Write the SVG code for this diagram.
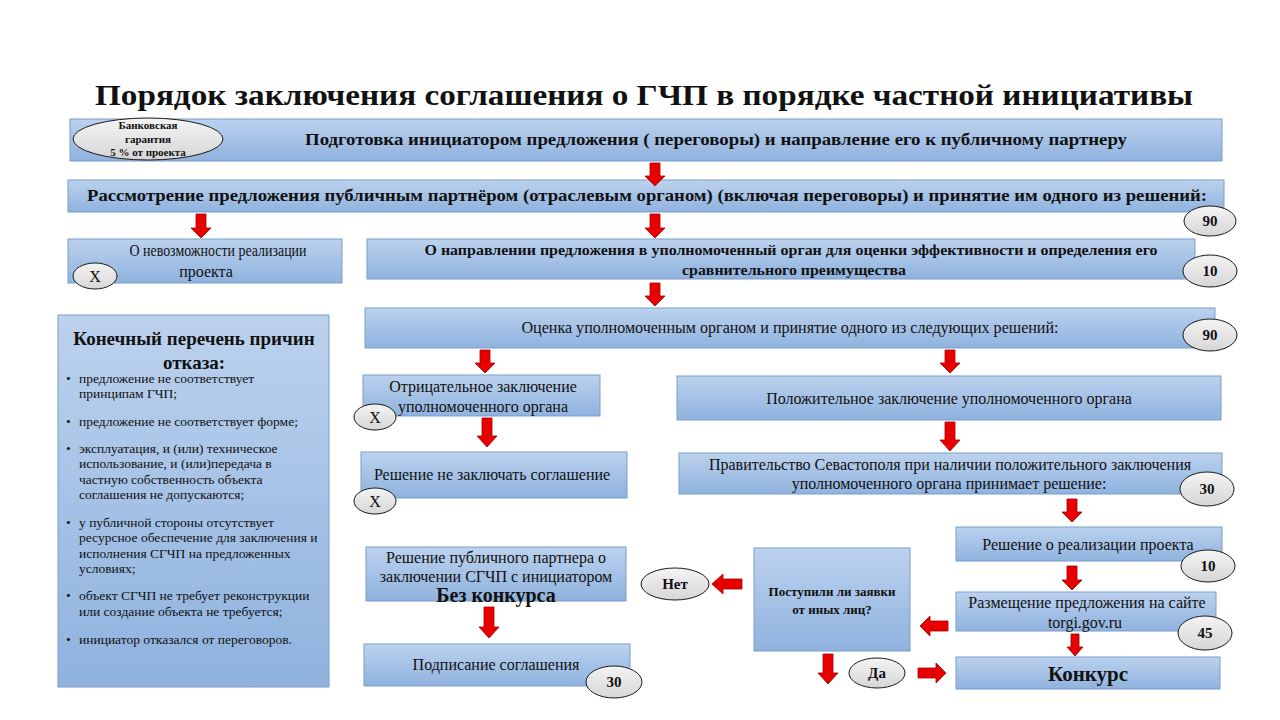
<svg xmlns="http://www.w3.org/2000/svg" width="1280" height="720" viewBox="0 0 1280 720" font-family="'Liberation Serif', 'DejaVu Serif', serif">
<defs>
<linearGradient id="bg" x1="0" y1="0" x2="0" y2="1">
<stop offset="0" stop-color="#bcd2ee"/>
<stop offset="1" stop-color="#8fb2de"/>
</linearGradient>
<linearGradient id="eg" x1="0" y1="0" x2="0" y2="1">
<stop offset="0" stop-color="#f4f4f4"/>
<stop offset="1" stop-color="#d6d6d6"/>
</linearGradient>
<style>
.box{fill:url(#bg);stroke:#7b9dcb;stroke-width:1}
.ell{fill:url(#eg);stroke:#1a1a1a;stroke-width:1}
.arr{fill:#e80000;stroke:#a50000;stroke-width:0.8}
text{fill:#111}
.c{text-anchor:middle}
.b{font-weight:bold}
.t16{font-size:16px}
.li{font-size:13.5px}
.num{font-size:15px;font-weight:bold;text-anchor:middle}
</style>
</defs>
<rect width="1280" height="720" fill="#ffffff"/>
<text x="644" y="105" class="c b" font-size="30" fill="#2b2b2b" textLength="1098" lengthAdjust="spacingAndGlyphs">Порядок заключения соглашения о ГЧП в порядке частной инициативы</text>

<g id="n1">
<rect class="box" x="70" y="119" width="1152" height="42"/>
<text x="716" y="145" class="c b" font-size="16" textLength="822" lengthAdjust="spacingAndGlyphs">Подготовка инициатором предложения ( переговоры) и направление его  к публичному партнеру</text>
</g>
<g id="bank">
<ellipse class="ell" cx="148" cy="139" rx="75" ry="21"/>
<text x="148" y="129" class="c b" font-size="11">Банковская</text>
<text x="148" y="143" class="c b" font-size="11">гарантия</text>
<text x="148" y="156" class="c b" font-size="11">5 % от проекта</text>
</g>

<g id="n2">
<rect class="box" x="68" y="180" width="1156" height="32"/>
<text x="647" y="201" class="c b" font-size="17" textLength="1120" lengthAdjust="spacingAndGlyphs">Рассмотрение предложения публичным партнёром (отраслевым органом) (включая переговоры) и принятие им одного из решений:</text>
</g>
<g id="e90a"><ellipse class="ell" cx="1210" cy="221" rx="26" ry="15"/><text x="1210" y="226" class="num">90</text></g>

<g id="n3">
<rect class="box" x="68" y="239" width="274" height="44"/>
<text x="218" y="256" class="c t16" textLength="177" lengthAdjust="spacingAndGlyphs">О невозможности реализации</text>
<text x="206" y="277" class="c t16">проекта</text>
</g>
<g id="x1"><ellipse class="ell" cx="95" cy="276" rx="22" ry="13"/><text x="95" y="282" class="c t16">Х</text></g>

<g id="n4">
<rect class="box" x="367" y="239" width="828" height="40"/>
<text x="791" y="255" class="c b" font-size="14" textLength="733" lengthAdjust="spacingAndGlyphs">О направлении  предложения в уполномоченный орган для оценки эффективности и определения его</text>
<text x="794" y="275" class="c b" font-size="14" textLength="224" lengthAdjust="spacingAndGlyphs">сравнительного  преимущества</text>
</g>
<g id="e10a"><ellipse class="ell" cx="1210" cy="271" rx="27" ry="16"/><text x="1210" y="276" class="num">10</text></g>

<g id="n5">
<rect class="box" x="365" y="308" width="850" height="40"/>
<text x="790" y="333" class="c t16" textLength="537" lengthAdjust="spacingAndGlyphs">Оценка уполномоченным органом и принятие одного из следующих  решений:</text>
</g>
<g id="e90b"><ellipse class="ell" cx="1210" cy="335" rx="27" ry="16"/><text x="1210" y="340" class="num">90</text></g>

<g id="reasons">
<rect class="box" x="58" y="315" width="271" height="372"/>
<text x="194" y="345" class="c b" font-size="19">Конечный перечень причин</text>
<text x="194" y="369" class="c b" font-size="19">отказа:</text>
<g class="li">
<text x="66" y="383">•</text><text x="79" y="383">предложение  не  соответствует</text>
<text x="79" y="398">принципам ГЧП;</text>
<text x="66" y="426">•</text><text x="79" y="426">предложение  не  соответствует  форме;</text>
<text x="66" y="453">•</text><text x="79" y="453">эксплуатация,  и (или)  техническое</text>
<text x="79" y="468">использование,  и (или)передача  в</text>
<text x="79" y="484">частную собственность объекта</text>
<text x="79" y="499">соглашения  не допускаются;</text>
<text x="66" y="527">•</text><text x="79" y="527">у публичной стороны отсутствует</text>
<text x="79" y="542">ресурсное обеспечение для заключения и</text>
<text x="79" y="558">исполнения  СГЧП на предложенных</text>
<text x="79" y="573">условиях;</text>
<text x="66" y="600">•</text><text x="79" y="600">объект СГЧП  не  требует реконструкции</text>
<text x="79" y="616">или создание  объекта не требуется;</text>
<text x="66" y="644">•</text><text x="79" y="644">инициатор  отказался  от переговоров.</text>
</g>
</g>

<g id="n6">
<rect class="box" x="363" y="375" width="237" height="41"/>
<text x="483" y="392" class="c t16">Отрицательное заключение</text>
<text x="483" y="412" class="c t16">уполномоченного органа</text>
</g>
<g id="x2"><ellipse class="ell" cx="375" cy="417" rx="21" ry="13"/><text x="375" y="423" class="c t16">Х</text></g>

<g id="n7">
<rect class="box" x="361" y="452" width="266" height="46"/>
<text x="492" y="480" class="c t16">Решение не заключать  соглашение</text>
</g>
<g id="x3"><ellipse class="ell" cx="375" cy="501" rx="21" ry="13"/><text x="375" y="507" class="c t16">Х</text></g>

<g id="n8">
<rect class="box" x="677" y="376" width="544" height="44"/>
<text x="949" y="404" class="c t16">Положительное заключение  уполномоченного органа</text>
</g>

<g id="n9">
<rect class="box" x="679" y="453" width="543" height="41"/>
<text x="950" y="470" class="c t16">Правительство Севастополя  при наличии положительного заключения</text>
<text x="949" y="489" class="c t16">уполномоченного органа принимает решение:</text>
</g>
<g id="e30a"><ellipse class="ell" cx="1207" cy="489" rx="27" ry="17"/><text x="1207" y="494" class="num">30</text></g>

<g id="n10">
<rect class="box" x="956" y="527" width="266" height="34"/>
<text x="1088" y="550" class="c t16">Решение о реализации проекта</text>
</g>
<g id="e10b"><ellipse class="ell" cx="1208" cy="566" rx="27" ry="16"/><text x="1208" y="571" class="num">10</text></g>

<g id="n11">
<rect class="box" x="956" y="592" width="260" height="39"/>
<text x="1087" y="608" class="c t16">Размещение предложения на сайте</text>
<text x="1085" y="628" class="c t16">torgi.gov.ru</text>
</g>
<g id="e45"><ellipse class="ell" cx="1205" cy="633" rx="27" ry="17"/><text x="1205" y="638" class="num">45</text></g>

<g id="n12">
<rect class="box" x="956" y="657" width="264" height="32"/>
<text x="1088" y="681" class="c b" font-size="21">Конкурс</text>
</g>

<g id="n13">
<rect class="box" x="754" y="548" width="156" height="103"/>
<text x="832" y="596" class="c b" font-size="13">Поступили  ли заявки</text>
<text x="832" y="614" class="c b" font-size="13">от иных  лиц?</text>
</g>
<g id="net"><ellipse class="ell" cx="675" cy="584" rx="34" ry="16"/><text x="675" y="589" class="num">Нет</text></g>
<g id="da"><ellipse class="ell" cx="877" cy="673" rx="28" ry="15"/><text x="877" y="678" class="num">Да</text></g>

<g id="n14">
<rect class="box" x="366" y="547" width="260" height="54"/>
<text x="496" y="563" class="c t16">Решение публичного партнера о</text>
<text x="496" y="582" class="c t16">заключении СГЧП с инициатором</text>
<text x="496" y="602" class="c b" font-size="20">Без конкурса</text>
</g>

<g id="n15">
<rect class="box" x="364" y="644" width="266" height="42"/>
<text x="496" y="670" class="c t16">Подписание соглашения</text>
</g>
<g id="e30b"><ellipse class="ell" cx="614" cy="682" rx="28" ry="16"/><text x="614" y="687" class="num">30</text></g>

<g id="connectors">
<path class="arr" d="M650,163H660V176H665L655,186L645,176H650Z"/>
<path class="arr" d="M196,214H206V228H211L201,238L191,228H196Z"/>
<path class="arr" d="M650,214H660V228H665L655,238L645,228H650Z"/>
<path class="arr" d="M650,283H660V296H665L655,306L645,296H650Z"/>
<path class="arr" d="M480,350H490V363H495L485,373L475,363H480Z"/>
<path class="arr" d="M945,350H955V363H960L950,373L940,363H945Z"/>
<path class="arr" d="M482,418H492V436H497L487,447L477,436H482Z"/>
<path class="arr" d="M945,422H955V440H960L950,451L940,440H945Z"/>
<path class="arr" d="M1067,499H1077V512H1082L1072,522L1062,512H1067Z"/>
<path class="arr" d="M1067,566H1077V580H1082L1072,590L1062,580H1067Z"/>
<path class="arr" d="M1071,634H1079V647H1083L1075,656L1067,647H1071Z"/>
<path class="arr" d="M484,607H494V627H499L489,638L479,627H484Z"/>
<path class="arr" d="M823,654H833V673H838L828,684L818,673H823Z"/>
<path class="arr" d="M948,621V631H930V636L920,626L930,616V621Z"/>
<path class="arr" d="M742,579V589H723V594L712,584L723,574V579Z"/>
<path class="arr" d="M918,668V678H936V683L946,673L936,663V668Z"/>
</g>
</svg>
